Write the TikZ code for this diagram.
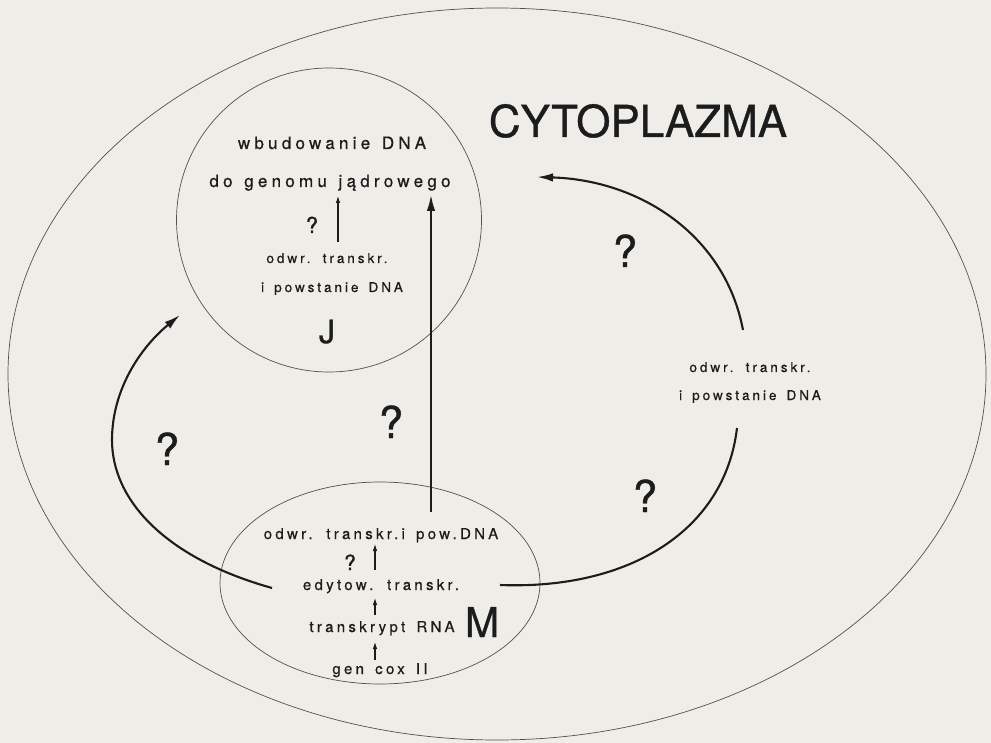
\documentclass[tikz,border=0pt]{standalone}
\usepackage{fontspec}
\setmainfont{TeX Gyre Heros}
\newfontfamily\hvs[LetterSpace=22,WordSpace=1.5,FakeBold=0.6]{TeX Gyre Heros}
\newfontfamily\hvm[LetterSpace=25,WordSpace=1.3,FakeBold=0.6]{TeX Gyre Heros}
\newfontfamily\hvb[FakeBold=0.8]{TeX Gyre Heros}
\usetikzlibrary{shapes.geometric,arrows.meta}
\definecolor{paper}{RGB}{238,237,232}
\definecolor{ink}{RGB}{28,28,28}
\definecolor{thinline}{RGB}{80,80,80}
\tikzset{
  compart/.style={draw=thinline, line width=0.7pt, ellipse, inner sep=0pt},
  smalltext/.style={font=\hvs\fontsize{15}{15}\selectfont, anchor=base, inner sep=0pt, text=ink},
  jtext/.style={font=\hvs\fontsize{13.5}{13.5}\selectfont, anchor=base, inner sep=0pt, text=ink},
  midtext/.style={font=\hvm\fontsize{17}{17}\selectfont, anchor=base, inner sep=0pt, text=ink},
  bigq/.style={font=\hvb\fontsize{44}{44}\selectfont, anchor=base, inner sep=0pt, text=ink},
  smallq/.style={font=\hvb\fontsize{21}{21}\selectfont, anchor=base, inner sep=0pt, text=ink},
  flow/.style={draw=ink, line width=2.1pt},
  bigtip/.style={-{Latex[length=16pt,width=8.5pt]}},
  tinyarrow/.style={draw=ink, line width=1.6pt, -{Latex[length=8pt,width=4.5pt]}}
}
\begin{document}
\begin{tikzpicture}[x=1pt,y=-1pt]
\useasboundingbox (0,0) rectangle (991,743);
\fill[paper] (0,0) rectangle (991,743);

% compartments
\node[compart, minimum width=978pt, minimum height=732pt] (cell) at (497,374) {};
\node[compart, minimum width=305pt, minimum height=304pt] (J) at (329,220) {};
\node[compart, minimum width=320pt, minimum height=202pt] (M) at (380,583) {};

% title
\node[font=\hvb\fontsize{44}{44}\selectfont, anchor=base, inner sep=0pt, text=ink] (cyto) at (638,137) {CYTOPLAZMA};

% nucleus texts
\node[midtext] (wb) at (332,149) {wbudowanie DNA};
\node[midtext] (dg) at (330,187) {do genomu jądrowego};
\node[smallq, font=\hvb\fontsize{22}{22}\selectfont] (qj) at (312,233) {?};
\node[jtext] (oj1) at (327,263) {odwr. transkr.};
\node[jtext] (oj2) at (332,292) {i powstanie DNA};
\node[font=\hvb\fontsize{32}{32}\selectfont, anchor=base, inner sep=0pt, text=ink] (Jl) at (327,343) {J};

% mitochondrion texts
\node[smalltext] (om) at (381,539) {odwr. transkr.i pow.DNA};
\node[smallq] (qm) at (350,570) {?};
\node[smalltext] (ed) at (381,590) {edytow. transkr.};
\node[smalltext] (tr) at (382,632) {transkrypt RNA};
\node[smalltext] (gc) at (380,674) {gen cox II};
\node[font=\hvb\fontsize{41}{41}\selectfont, anchor=base, inner sep=0pt, text=ink] (Ml) at (482,637) {M};

% cytoplasm texts
\node[jtext] (oc1) at (750,372) {odwr. transkr.};
\node[jtext] (oc2) at (750,400) {i powstanie DNA};

% big question marks
\node[bigq] (q1) at (625,267) {?};
\node[bigq] (q2) at (167,465) {?};
\node[bigq] (q3) at (391,438) {?};
\node[bigq] (q4) at (645,512) {?};

% coordinates for connectors
\coordinate (aJs) at (338,242);
\coordinate (aJe) at (338,195);
\coordinate (aM1s) at (375,570);
\coordinate (aM1e) at (375,543);
\coordinate (aM2s) at (375,615);
\coordinate (aM2e) at (375,597);
\coordinate (aM3s) at (375,660);
\coordinate (aM3e) at (375,641);
\coordinate (longs) at (431,512);
\coordinate (longe) at (431,195);
\coordinate (ls) at (272,588);
\coordinate (lm) at (112,440);
\coordinate (le) at (180,315);
\coordinate (rls) at (500,585);
\coordinate (rle) at (737,428);
\coordinate (rus) at (743,330);
\coordinate (rue) at (537,177);

% small arrows
\draw[tinyarrow] (aJs) -- (aJe);
\draw[tinyarrow] (aM1s) -- (aM1e);
\draw[tinyarrow] (aM2s) -- (aM2e);
\draw[tinyarrow] (aM3s) -- (aM3e);

% long arrow
\draw[flow, line width=1.7pt, bigtip] (longs) -- (longe);

% left curve M -> J
\draw[flow, bigtip] (ls) .. controls (165,558) and (112,500) .. (lm)
   .. controls (112,390) and (140,348) .. (le);

% right lower curve
\draw[flow] (rls) .. controls (630,590) and (725,530) .. (rle);

% right upper curve to J
\draw[flow, bigtip] (rus) .. controls (725,235) and (640,180) .. (rue);
\end{tikzpicture}
\end{document}
